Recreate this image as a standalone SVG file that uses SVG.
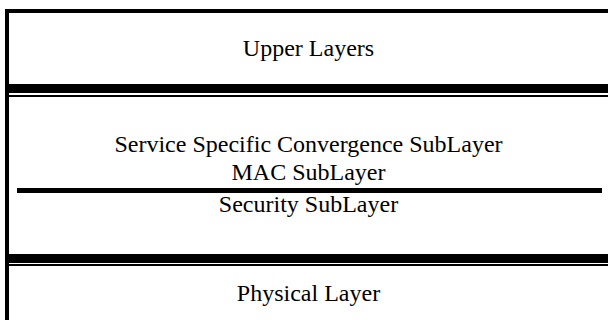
<svg xmlns="http://www.w3.org/2000/svg" width="608" height="320" viewBox="0 0 608 320">
<style>
.t{font-family:"Liberation Serif","Times New Roman",serif;font-size:24px;fill:#000;text-anchor:middle}
.b{fill:#000}
</style>
<rect width="608" height="320" fill="#fff"/>
<g id="frame">
<rect class="b" x="5" y="9" width="603" height="4"/>
<rect class="b" x="5" y="9" width="4" height="311"/>
</g>
<g id="upper-layers">
<text class="t" x="308.5" y="56">Upper Layers</text>
</g>
<g id="separators">
<rect class="b" x="5" y="84" width="603" height="9"/>
<rect class="b" x="5" y="95" width="603" height="2"/>
<rect class="b" x="5" y="254" width="603" height="9"/>
<rect class="b" x="5" y="264" width="603" height="2"/>
</g>
<g id="mac-layer">
<text class="t" x="308.5" y="152">Service Specific Convergence SubLayer</text>
<text class="t" x="308.5" y="180">MAC SubLayer</text>
<rect class="b" x="17" y="188" width="585" height="5"/>
<text class="t" x="308.5" y="212">Security SubLayer</text>
</g>
<g id="physical-layer">
<text class="t" x="308.5" y="301">Physical Layer</text>
</g>
</svg>
